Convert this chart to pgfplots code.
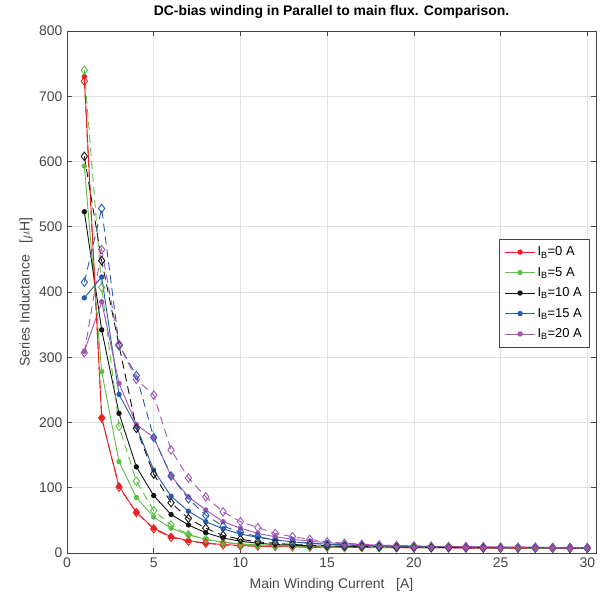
\documentclass[border=0pt]{standalone}
\usepackage{fontspec}
\setmainfont{Liberation Sans}
\usepackage{pgfplots}
\usepackage{pgfplotstable}
\pgfplotsset{compat=1.18}

\definecolor{cR}{RGB}{232,32,32}
\definecolor{cG}{RGB}{92,192,69}
\definecolor{cK}{RGB}{20,20,20}
\definecolor{cB}{RGB}{38,90,172}
\definecolor{cP}{RGB}{160,84,180}
\definecolor{axgray}{RGB}{70,70,70}
\definecolor{gridgray}{RGB}{226,226,226}

% x, then solid / dashed for I_B = 0, 5, 10, 15, 20 A
\pgfplotstableread{
x  r    rd   g    gd   k    kd   b    bd   p    pd
1  730  723  593  740  523  608  391  415  309  307
2  207  207  278  407  342  448  423  528  385  465
3  102  101  140  194  214  318  243  319  260  320
4  62   62   85   110  132  191  194  272  197  266
5  38   37   55   65   88   121  127  177  177  242
6  25   24   38   43   59   77   87   118  118  158
7  19   18   28   28   43   53   64   83   86   115
8  15   15   21   21   31   38   48   58   66   86
9  13   12.5 16.5 16   23   27   37   41   48   63
10 11.5 11   14   13.5 18   21   29   32   38   48
11 10.5 10.5 12.5 12   15   17   24   25   30   39
12 10   10   11.5 11   13   15   20   20   25   30
13 9.5  9.5  10.5 10.5 12   13   17   17   21   25
14 9    9    10   10   11   12   15   15   18   21
15 9    9    9.5  9.5  10.5 11   13.5 13   16   17
16 8.5  8.5  9    9    10   10.5 12.5 12   14   15
17 8.5  8.5  9    9    9.5  10   11.5 11.5 13   13.5
18 8.5  8.5  8.5  8.5  9    9.5  11   11   12   12.5
19 8    8    8.5  8.5  9    9    10.5 10.5 11   11.5
20 8    8    8.5  8.5  9    9    10   10   10.5 11
21 8    8    8    8    8.5  8.5  9.5  9.5  10   10.5
22 8    8    8    8    8.5  8.5  9.5  9.5  10   10
23 7.5  7.5  8    8    8.5  8.5  9    9    9.5  10
24 7.5  7.5  8    8    8    8    9    9    9.5  9.5
25 7.5  7.5  8    8    8    8    8.5  8.5  9    9
26 7.5  7.5  7.5  7.5  8    8    8.5  8.5  9    9
27 7    7    7.5  7.5  8    8    8.5  8.5  9    9
28 7    7    7.5  7.5  8    8    8    8    8.5  8.5
29 7    7    7.5  7.5  7.5  7.5  8    8    8.5  8.5
30 7    7    7    7    7.5  7.5  8    8    8.5  8.5
}\ind

\begin{document}
\begin{tikzpicture}
\begin{axis}[
  at={(0,0)}, anchor=south west,
  width=529bp, height=522bp, scale only axis,
  xmin=0, xmax=30.5, ymin=0, ymax=800,
  xtick={0,5,...,30}, ytick={0,100,...,800},
  tick align=inside, major tick length=5bp,
  tick style={axgray, line width=0.6bp},
  axis line style={axgray, line width=0.8bp},
  grid=major,
  major grid style={gridgray, line width=0.6bp},
  /pgf/number format/assume math mode=true,
  ticklabel style={font=\fontsize{14}{16}\selectfont, text=axgray},
  xticklabel style={yshift=-1bp},
  yticklabel style={xshift=-1bp},
  title={\bfseries DC-bias winding in Parallel to main flux. Comparison.},
  every axis title/.style={at={(axis description cs:0.5,1)}, anchor=center,
    yshift=19bp, font=\fontsize{14}{16}\selectfont},
  xlabel={Main Winding Current \ \ [A]},
  ylabel={Series Inductance \ \ [$\mu$H]},
  xlabel style={at={([yshift=-32bp]axis description cs:0.5,0)}, anchor=center,
    font=\fontsize{14}{16}\selectfont, text=axgray},
  ylabel style={at={([xshift=-41bp]axis description cs:0,0.5)}, anchor=center,
    font=\fontsize{14}{16}\selectfont, text=axgray},
  legend style={at={(0.987,0.498)}, anchor=east, draw=axgray, line width=0.5bp,
    font=\fontsize{13}{15}\selectfont, row sep=6bp, inner xsep=5bp, inner ysep=6bp},
  legend cell align=left,
  legend image code/.code={
    \draw[mark repeat=2, mark phase=2] plot coordinates {(0bp,0bp) (15bp,0bp) (30bp,0bp)};},
  every axis plot/.append style={line width=0.9bp},
  solidser/.style={solid, mark=*, mark size=2.2bp, mark options={solid}},
  dashser/.style={dash pattern=on 8bp off 5bp, mark=diamond, mark size=4.2bp,
    mark options={solid, fill=none}},
]
\addplot[cR, solidser] table[x=x, y=r] {\ind};
\addlegendentry{I\textsubscript{B}=0 A}
\addplot[cG, solidser] table[x=x, y=g] {\ind};
\addlegendentry{I\textsubscript{B}=5 A}
\addplot[cK, solidser] table[x=x, y=k] {\ind};
\addlegendentry{I\textsubscript{B}=10 A}
\addplot[cB, solidser] table[x=x, y=b] {\ind};
\addlegendentry{I\textsubscript{B}=15 A}
\addplot[cP, solidser] table[x=x, y=p] {\ind};
\addlegendentry{I\textsubscript{B}=20 A}
\addplot[cR, dashser, forget plot] table[x=x, y=rd] {\ind};
\addplot[cG, dashser, forget plot] table[x=x, y=gd] {\ind};
\addplot[cK, dashser, forget plot] table[x=x, y=kd] {\ind};
\addplot[cB, dashser, forget plot] table[x=x, y=bd] {\ind};
\addplot[cP, dashser, forget plot] table[x=x, y=pd] {\ind};
\end{axis}
\pgfresetboundingbox
\path (-67bp,-46bp) rectangle (534bp,553bp);
\end{tikzpicture}
\end{document}
